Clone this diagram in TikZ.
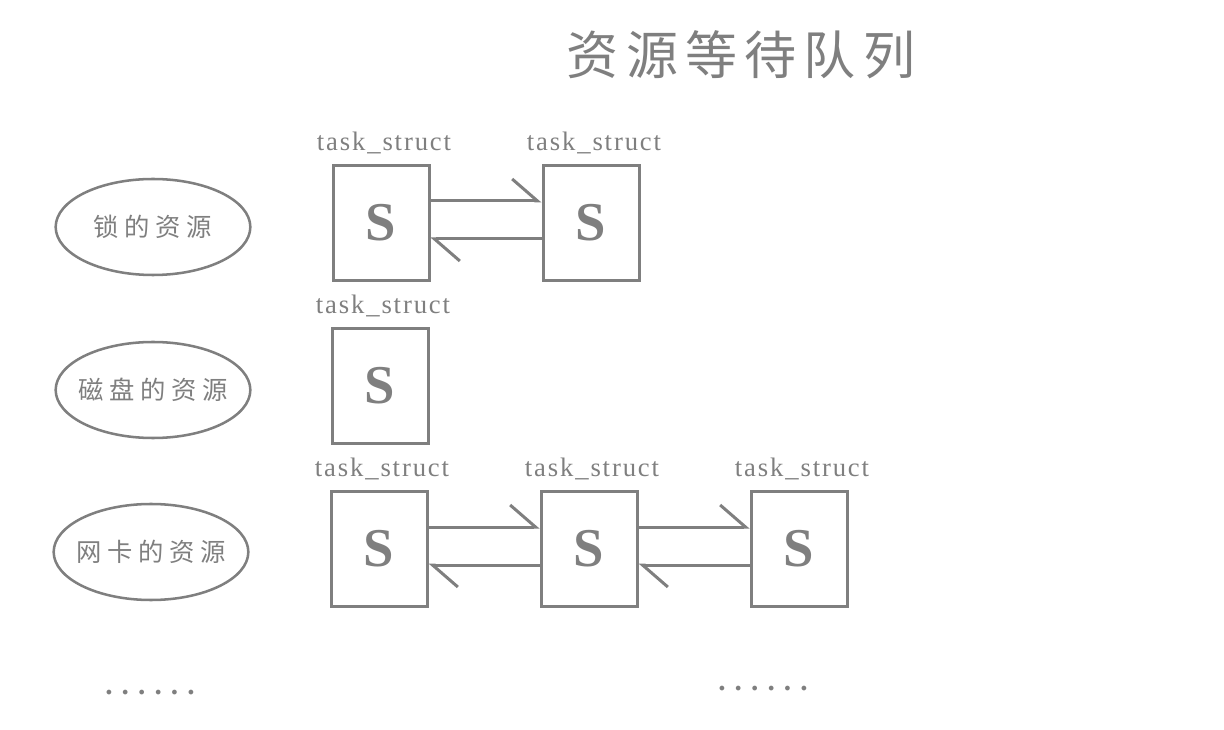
\documentclass[tikz,border=0pt]{standalone}
\usepackage{fontspec}
\setmainfont{Liberation Serif}
\newfontfamily\cjktitle[LetterSpace=14]{Noto Sans CJK SC}
\newfontfamily\cjklab[LetterSpace=22]{Noto Sans CJK SC}
\newfontfamily\serifsp[LetterSpace=7]{Liberation Serif}
\newfontfamily\dotsfont[LetterSpace=31]{Liberation Serif}
\usetikzlibrary{shapes.geometric,arrows.meta}
\definecolor{lg}{HTML}{7F7F7F}
\begin{document}
\begin{tikzpicture}[x=0.75pt,y=-0.75pt,
  sbox/.style={draw=lg,line width=2.25pt,minimum width=72pt,minimum height=86.25pt,inner sep=0pt,
     text=lg,font=\bfseries\fontsize{41}{44}\selectfont},
  res/.style={draw=lg,ellipse,line width=1.9pt,minimum width=146pt,minimum height=72pt,inner sep=-20pt,
     text=lg,font=\cjklab\fontsize{19}{21}\selectfont},
  tlabel/.style={text=lg,inner sep=0pt,font=\serifsp\fontsize{20}{22}\selectfont},
  harp/.style={draw=lg,line width=2.25pt,-{Straight Barb[left,length=19pt,width=33pt]}},
  dotsl/.style={text=lg,inner sep=0pt,anchor=base west,font=\dotsfont\bfseries\fontsize{22}{24}\selectfont}
]
\useasboundingbox (0,0) rectangle (1224,730);
\node[text=lg,font=\cjktitle\fontsize{39}{42}\selectfont] (title) at (741,55) {资源等待队列};

\node[res] (r1) at (153,227) {锁的资源};
\node[res] (r2) at (153,390) {磁盘的资源};
\node[res] (r3) at (151,552) {网卡的资源};

\node[sbox] (a1) at (381,223) {S};
\node[sbox] (a2) at (591,223) {S};
\node[sbox] (b1) at (380,386) {S};
\node[sbox] (c1) at (379,549) {S};
\node[sbox] (c2) at (589,549) {S};
\node[sbox] (c3) at (799,549) {S};

\node[tlabel] (la1) at (384,143) {task\_struct};
\node[tlabel] (la2) at (594,143) {task\_struct};
\node[tlabel] (lb1) at (383,306) {task\_struct};
\node[tlabel] (lc1) at (382,469) {task\_struct};
\node[tlabel] (lc2) at (592,469) {task\_struct};
\node[tlabel] (lc3) at (802,469) {task\_struct};

\draw[harp] ([yshift=16.5pt]a1.east) -- ([yshift=16.5pt]a2.west);
\draw[harp] ([yshift=-12pt]a2.west) -- ([yshift=-12pt]a1.east);
\draw[harp] ([yshift=16.5pt]c1.east) -- ([yshift=16.5pt]c2.west);
\draw[harp] ([yshift=-12pt]c2.west) -- ([yshift=-12pt]c1.east);
\draw[harp] ([yshift=16.5pt]c2.east) -- ([yshift=16.5pt]c3.west);
\draw[harp] ([yshift=-12pt]c3.west) -- ([yshift=-12pt]c2.east);

\node[dotsl] (d1) at (105,694) {......};
\node[dotsl] (d2) at (718,690) {......};
\end{tikzpicture}
\end{document}
